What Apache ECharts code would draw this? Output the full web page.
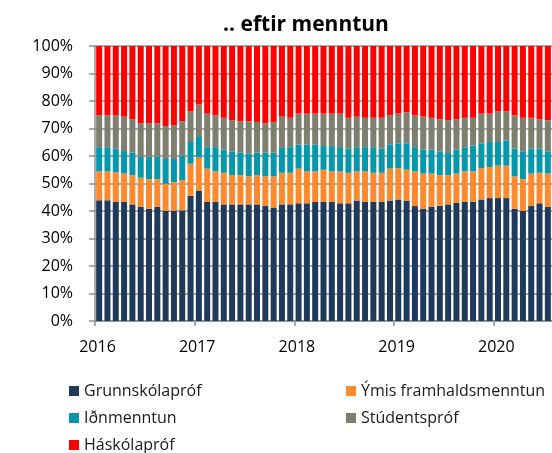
<!DOCTYPE html>
<html>
<head>
<meta charset="utf-8">
<script src="https://cdn.jsdelivr.net/npm/echarts@6/dist/echarts.min.js"></script>
<style>
html,body{margin:0;padding:0;background:#fff;}
#chart{width:552px;height:453px;}
</style>
</head>
<body>
<div id="chart"></div>
<script>
// Monthly data, Jan 2016 – Jul 2020 (shares, %)
const startYear = 2016;
const yearTicks = ['2016', '2017', '2018', '2019', '2020'];
const seriesNames = ['Grunnskólapróf', 'Ýmis framhaldsmenntun', 'Iðnmenntun', 'Stúdentspróf', 'Háskólapróf'];

const grunnskolaprof = [43.9,43.9,43.3,43.3,42.4,41.5,40.8,41.5,40.0,40.0,40.2,45.5,
  47.5,43.3,43.3,42.4,42.4,42.4,42.4,42.4,41.8,41.1,42.4,42.4,
  42.8,42.8,43.3,43.3,43.3,42.8,42.8,43.8,43.3,43.3,43.3,43.8,
  44.2,43.8,41.8,40.8,41.5,41.9,42.4,42.9,43.3,43.3,44.2,44.7,
  44.7,44.7,40.8,40.0,41.8,42.8,41.5];
const ymisFramhald = [10.5,10.5,10.8,10.3,10.6,10.6,10.8,10.1,9.9,10.5,11.0,11.7,
  11.9,12.1,11.1,11.5,10.6,10.6,10.2,10.6,10.8,11.5,11.5,11.5,
  12.6,11.6,11.1,11.7,11.1,11.6,11.1,10.6,11.1,10.6,10.6,11.6,
  11.4,11.2,12.6,12.8,12.1,11.1,10.6,10.7,11.1,11.1,11.4,11.3,
  11.8,11.8,11.8,11.6,11.8,11.1,12.1];
const idnmenntun = [8.8,8.8,8.6,8.2,8.2,7.7,8.2,8.2,9.0,8.4,9.0,7.9,
  7.5,7.8,8.8,8.4,8.7,8.2,8.2,8.2,8.6,8.6,9.3,9.3,
  8.7,9.7,9.7,8.6,9.2,8.8,8.8,8.8,8.8,9.3,8.8,8.7,
  9.0,9.6,8.8,8.7,8.7,8.7,8.1,8.7,8.8,9.4,9.0,9.1,
  8.6,9.2,10.1,10.1,9.1,8.8,8.1];
const studentsprof = [11.6,11.6,12.1,12.5,12.1,12.1,12.1,12.1,12.0,12.3,12.4,11.1,
  11.8,12.2,11.6,11.6,11.3,11.4,11.8,11.2,10.7,11.2,11.1,10.7,
  11.3,11.3,11.3,11.8,11.8,12.2,11.2,11.1,10.7,10.7,11.2,10.7,
  10.8,11.3,11.6,12.0,11.6,11.6,11.9,11.0,10.7,10.1,10.8,10.3,
  11.1,10.5,12.1,12.2,11.2,10.6,11.3];
const haskolaprof = [25.2,25.2,25.2,25.7,26.7,28.1,28.1,28.1,29.1,28.8,27.4,23.8,
  21.3,24.6,25.2,26.1,27.0,27.4,27.4,27.6,28.1,27.6,25.7,26.1,
  24.6,24.6,24.6,24.6,24.6,24.6,26.1,25.7,26.1,26.1,26.1,25.2,
  24.6,24.1,25.2,25.7,26.1,26.7,27.0,26.7,26.1,26.1,24.6,24.6,
  23.8,23.8,25.2,26.1,26.1,26.7,27.0];

const colors = ['#203a5c', '#fd8a2f', '#0598ab', '#7f7f6f', '#ff0000'];
const values = [grunnskolaprof, ymisFramhald, idnmenntun, studentsprof, haskolaprof];
const nMonths = grunnskolaprof.length;
const months = grunnskolaprof.map((_, i) => (startYear + Math.floor(i / 12)) + '-' + String(i % 12 + 1).padStart(2, '0'));

const FONT = '"Open Sans", Lato, sans-serif';
const axisGray = '#8f8f8f';

const series = seriesNames.map((name, k) => ({
  name: name,
  type: 'bar',
  stack: 'total',
  xAxisIndex: 0,
  barWidth: 6,
  itemStyle: { color: colors[k] },
  data: values[k]
}));

const legendPos = [
  { left: 69, top: 383 },
  { left: 346, top: 383 },
  { left: 69, top: 410 },
  { left: 346, top: 410 },
  { left: 69, top: 437 }
];
const legends = seriesNames.map((name, k) => ({
  data: [name],
  left: legendPos[k].left,
  top: legendPos[k].top,
  itemWidth: 10,
  itemHeight: 10,
  itemGap: 0,
  icon: 'rect',
  textStyle: { fontFamily: FONT, fontSize: 16, color: '#1a1a1a' },
  padding: 0,
  selectedMode: false
}));

const chart = echarts.init(document.getElementById('chart'), null, { renderer: 'canvas' });
chart.setOption({
  animation: false,
  color: colors,
  title: {
    text: '.. eftir menntun',
    left: 301,
    textAlign: 'center',
    top: 10,
    textStyle: { fontFamily: FONT, fontWeight: 'bold', fontSize: 21, color: '#000' }
  },
  legend: legends,
  grid: { left: 95, right: 0, top: 46, bottom: 132, containLabel: false },
  xAxis: [
    {
      type: 'category',
      data: months,
      boundaryGap: true,
      show: false
    },
    {
      type: 'value',
      position: 'bottom',
      min: 0,
      max: nMonths,
      interval: 12,
      axisLine: { show: true, lineStyle: { color: axisGray, width: 1.5 } },
      axisTick: { show: true, length: 5, lineStyle: { color: axisGray, width: 1.5 } },
      splitLine: { show: false },
      axisLabel: {
        showMaxLabel: false,
        margin: 18,
        padding: [0, 0, 0, 5],
        fontFamily: FONT,
        fontSize: 16,
        color: '#000',
        formatter: v => yearTicks[Math.round(v / 12)] || String(startYear + v / 12)
      }
    }
  ],
  yAxis: {
    type: 'value',
    min: 0,
    max: 100,
    interval: 10,
    axisLine: { show: true, lineStyle: { color: axisGray, width: 1.5 } },
    axisTick: { show: true, length: 6, lineStyle: { color: axisGray, width: 1.5 } },
    splitLine: { show: true, lineStyle: { color: axisGray, width: 1.5 } },
    axisLabel: {
      margin: 22,
      fontFamily: FONT,
      fontSize: 16,
      color: '#000',
      formatter: '{value}%'
    }
  },
  series: series
});
</script>
</body>
</html>
